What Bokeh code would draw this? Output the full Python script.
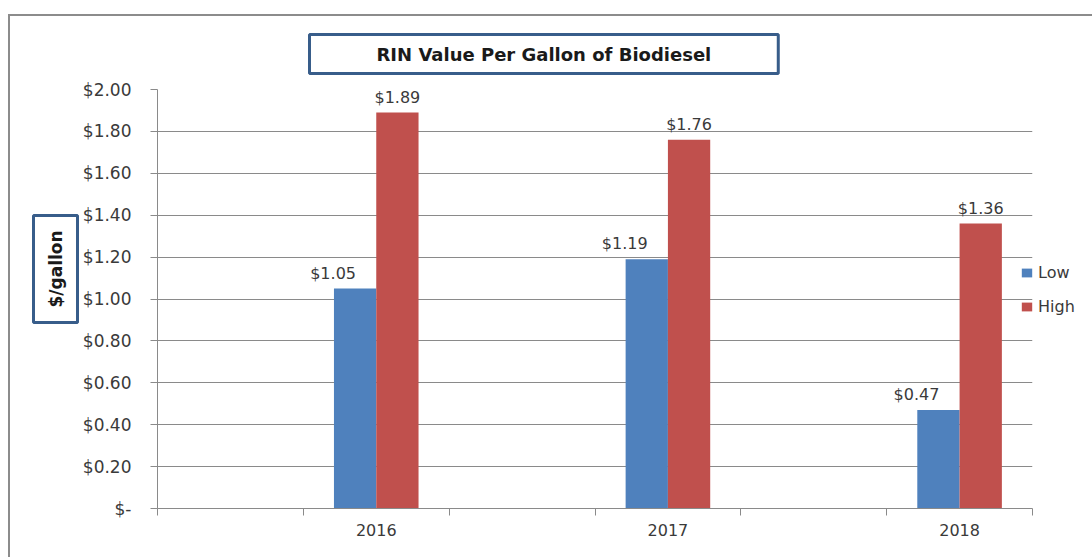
from bokeh.plotting import figure
from bokeh.models import (FixedTicker, Legend, LegendItem, Title,
                          ColumnDataSource, LabelSet, Range1d)
from bokeh.core.properties import value
from bokeh.embed import file_html
from bokeh.resources import INLINE

# ---- data ----
slots = ["", "2016", "", "2017", "", "2018"]   # category slots along the x axis
years = ["2016", "2017", "2018"]
low = [1.05, 1.19, 0.47]
high = [1.89, 1.76, 1.36]
series_names = ["Low", "High"]
y_ticks = [0.0, 0.2, 0.4, 0.6, 0.8, 1.0, 1.2, 1.4, 1.6, 1.8, 2.0]
y_tick_labels = ["$-", "$0.20", "$0.40", "$0.60", "$0.80", "$1.00",
                 "$1.20", "$1.40", "$1.60", "$1.80", "$2.00"]
title_text = "RIN Value Per Gallon of Biodiesel"
y_title = "$/gallon"

BLUE = "#4F81BD"
RED = "#C0504D"
GRID = "#8A8A8A"
TXT = "#3A3A3A"
BOXC = "#385D8A"
FONT = "DejaVu Sans"

bar_w = 0.29
centers = [slots.index(y) + 0.5 for y in years]
src = ColumnDataSource(dict(
    year=years,
    xl=[c - bar_w / 2 for c in centers],
    xh=[c + bar_w / 2 for c in centers],
    low=low, high=high,
    low_txt=["$%.2f" % v for v in low],
    high_txt=["$%.2f" % v for v in high],
))

p = figure(frame_width=875, frame_height=419, output_backend="svg", toolbar_location=None,
           x_range=Range1d(0, len(slots)), y_range=Range1d(0, 2.0),
           min_border_left=147, min_border_right=60, min_border_top=73,
           min_border_bottom=49,
           styles={"margin-left": "8px", "margin-top": "14px",
                   "border-left": "2px solid #8C8C8C", "border-top": "2px solid #8C8C8C"})
p.outline_line_color = None
p.background_fill_color = "white"
p.border_fill_color = "white"

# title in a framed box
p.title.text = title_text
p.title.align = "left"
p.title.offset = 152
p.title.standoff = 32
p.title.vertical_align = "bottom"
p.title.text_font = FONT
p.title.text_font_style = "bold"
p.title.text_font_size = "18px"
p.title.text_color = "#1A1A1A"
p.title.border_line_color = BOXC
p.title.border_line_width = 3
p.title.background_fill_color = "white"
p.title.padding = (67, 9)

rl = p.vbar(x="xl", top="low", width=bar_w, source=src, fill_color=BLUE, line_color=None)
rh = p.vbar(x="xh", top="high", width=bar_w, source=src, fill_color=RED, line_color=None)

# y axis
p.yaxis.ticker = FixedTicker(ticks=y_ticks)
p.yaxis.major_label_overrides = {t: l for t, l in zip(y_ticks, y_tick_labels)}
p.yaxis.major_tick_out = 7
p.yaxis.major_tick_in = 0
p.yaxis.minor_tick_out = 0
p.yaxis.minor_tick_in = 0
p.yaxis.axis_line_color = GRID
p.yaxis.major_tick_line_color = GRID
p.yaxis.major_label_text_font = FONT
p.yaxis.major_label_text_font_size = "17px"
p.yaxis.major_label_text_color = TXT
p.yaxis.major_label_standoff = 19

# y title in a framed box, left of the axis
ytitle = Title(text=y_title, align="left", offset=186, vertical_align="bottom",
               standoff=4, padding=(15, 12), border_line_color=BOXC, border_line_width=3,
               background_fill_color="white", text_font=FONT, text_font_style="bold",
               text_font_size="17px", text_color="#1A1A1A")
p.add_layout(ytitle, "left")

# x axis: labels at slot centres, tick marks at slot boundaries
p.xaxis.ticker = FixedTicker(ticks=centers, minor_ticks=list(range(len(slots) + 1)))
p.xaxis.major_label_overrides = {c: y for c, y in zip(centers, years)}
p.xaxis.major_tick_out = 0
p.xaxis.major_tick_in = 0
p.xaxis.minor_tick_out = 7
p.xaxis.minor_tick_in = 0
p.xaxis.minor_tick_line_color = GRID
p.xaxis.axis_line_color = GRID
p.xaxis.major_label_text_font = FONT
p.xaxis.major_label_text_font_size = "16px"
p.xaxis.major_label_text_color = TXT
p.xaxis.major_label_standoff = 8

p.xgrid.grid_line_color = None
p.ygrid.ticker = FixedTicker(ticks=y_ticks)
p.ygrid.grid_line_color = GRID
p.ygrid.grid_line_width = 1

# data labels
p.add_layout(LabelSet(x="xl", y="low", text="low_txt", source=src, x_offset=-22, y_offset=6,
                      text_align="center", text_baseline="bottom", text_font=value(FONT),
                      text_font_size="16px", text_color=TXT))
p.add_layout(LabelSet(x="xh", y="high", text="high_txt", source=src, x_offset=0, y_offset=6,
                      text_align="center", text_baseline="bottom", text_font=value(FONT),
                      text_font_size="16px", text_color=TXT))

# legend in the right panel, pulled slightly over the plot area
legend = Legend(items=[LegendItem(label=series_names[0], renderers=[rl]),
                       LegendItem(label=series_names[1], renderers=[rh])],
                location=(-12, 192), orientation="vertical",
                background_fill_alpha=0, border_line_color=None,
                padding=0, margin=0, spacing=14, glyph_width=13, glyph_height=11,
                label_height=20, label_standoff=5,
                label_text_font=FONT, label_text_font_size="16px", label_text_color=TXT)
p.add_layout(legend, "right")

open("out.html", "w").write(file_html(p, INLINE))
